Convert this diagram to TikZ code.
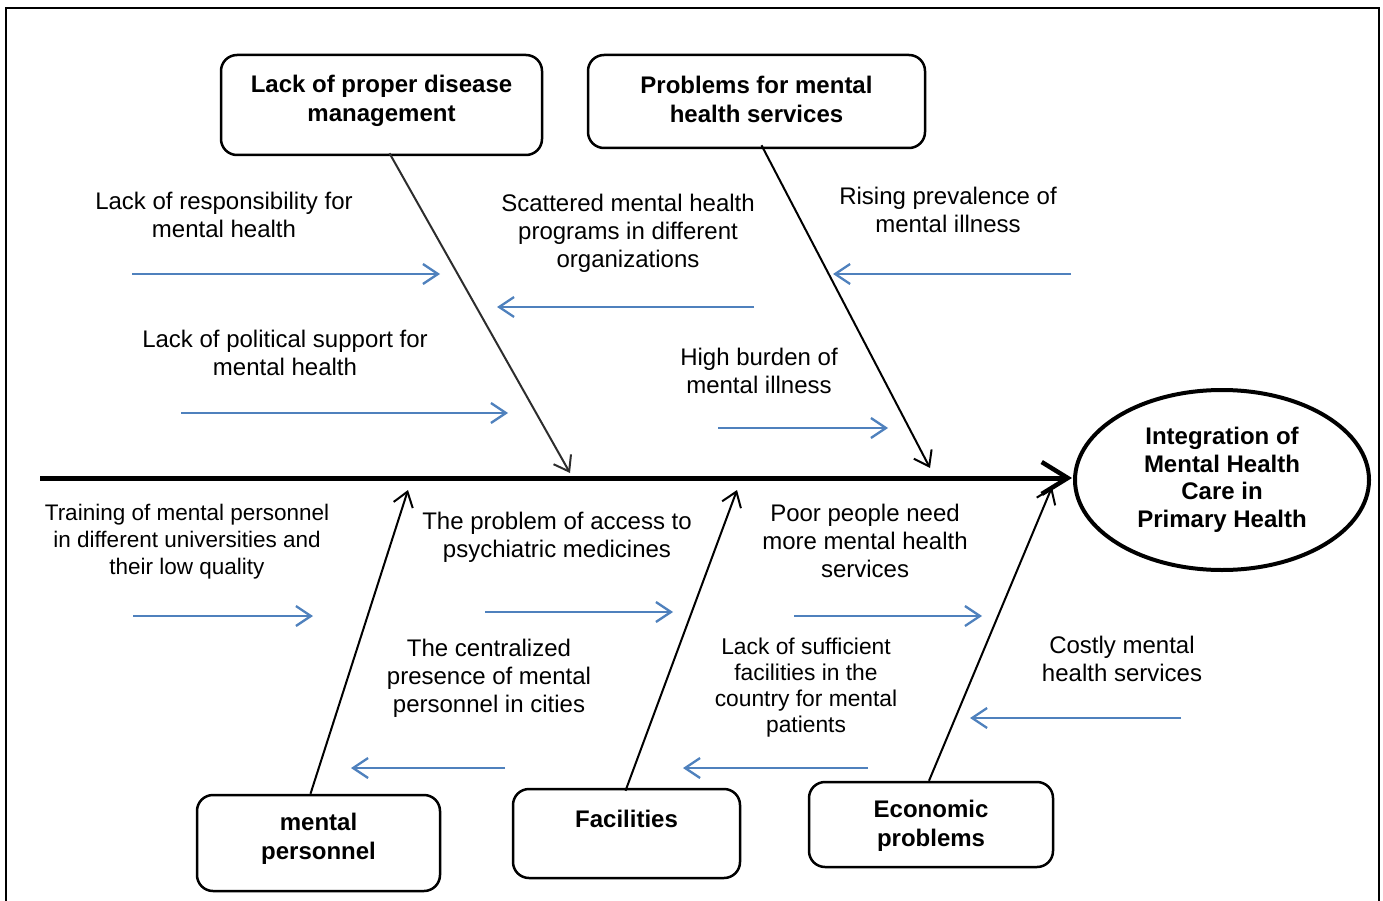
\documentclass[tikz,border=0pt]{standalone}
\usepackage{fontspec}
\setmainfont{Liberation Sans}
\usetikzlibrary{arrows.meta,shapes.geometric}
\definecolor{arrowblue}{RGB}{79,129,189}
\definecolor{bonegray}{RGB}{45,45,45}
\begin{document}
\begin{tikzpicture}[x=1pt,y=-1pt,
  lbl/.style={align=center,inner sep=0pt,font=\fontsize{24}{27.8}\selectfont},
  boxtxt/.style={align=center,inner sep=0pt,font=\fontsize{24}{29}\selectfont\bfseries},
  causebox/.style={draw,line width=2.5pt,rounded corners=16pt,inner sep=0pt},
  bluearrow/.style={draw=arrowblue,line width=2.5pt,-{Straight Barb[length=15pt,width=20pt,line width=2.3pt]}},
  bone/.style={line width=2pt,-{Straight Barb[length=14pt,width=20pt,line width=2pt]}},
]
\useasboundingbox (0,0) rectangle (1383,901);
\draw[line width=2pt] (6,905) -- (6,8) -- (1379,8) -- (1379,905);

% effect
\node[draw,ellipse,line width=4pt,minimum width=294pt,minimum height=180pt,inner sep=0pt,
  align=center,font=\fontsize{24}{27.5}\selectfont\bfseries] (goal) at (1222,480)
  {Integration of\\Mental Health\\Care in\\Primary Health};

% spine
\coordinate (tail) at (40,478);
\draw[line width=5pt,-{Straight Barb[length=26pt,width=32pt,line width=4.5pt]}] (tail) -- (1072,478);

% category boxes
\node[causebox,minimum width=321pt,minimum height=100pt] (b1) at (381.5,105) {};
\node[boxtxt] (b1t) at (381.5,101) {Lack of proper disease\\management};
\node[causebox,minimum width=337pt,minimum height=93pt] (b2) at (756.5,101.5) {};
\node[boxtxt] (b2t) at (756.5,99) {Problems for mental\\health services};
\node[causebox,minimum width=243pt,minimum height=96pt] (b3) at (318.5,843) {};
\node[boxtxt] (b3t) at (318.5,839) {mental\\personnel};
\node[causebox,minimum width=227pt,minimum height=89pt] (b4) at (626.5,833.5) {};
\node[boxtxt] (b4t) at (626.5,819) {Facilities};
\node[causebox,minimum width=244pt,minimum height=85pt] (b5) at (931,824.5) {};
\node[boxtxt] (b5t) at (931,826) {Economic\\problems};

% bones
\coordinate (j1) at (570,473);
\coordinate (j2) at (930,468);
\coordinate (j3) at (408,490);
\coordinate (j4) at (737,490);
\coordinate (j5) at (1052,487);
\draw[bone,bonegray] ([xshift=8pt,yshift=3pt]b1.south) -- (j1);
\draw[bone] ([xshift=5pt,yshift=4pt]b2.south) -- (j2);
\draw[bone] ([xshift=-8pt]b3.north) -- (j3);
\draw[bone] ([xshift=-1pt,yshift=-3pt]b4.north) -- (j4);
\draw[bone] ([xshift=-2pt]b5.north) -- (j5);

% sub-causes
\node[lbl] (l1) at (224,215) {Lack of responsibility for\\mental health};
\node[lbl] (l2) at (285,353) {Lack of political support for\\mental health};
\node[lbl] (l3) at (628,233) {Scattered mental health\\programs in different\\organizations};
\node[lbl] (l4) at (948,210) {Rising prevalence of\\mental illness};
\node[lbl] (l5) at (759,371) {High burden of\\mental illness};
\node[lbl,font=\fontsize{22.5}{27}\selectfont] (l6) at (187,542) {Training of mental personnel\\in different universities and\\their low quality};
\node[lbl] (l7) at (557,537) {The problem of access to\\psychiatric medicines};
\node[lbl] (l8) at (865,541) {Poor people need\\more mental health\\services};
\node[lbl] (l9) at (489,678) {The centralized\\presence of mental\\personnel in cities};
\node[lbl,font=\fontsize{22.8}{26}\selectfont] (l10) at (806,688) {Lack of sufficient\\facilities in the\\country for mental\\patients};
\node[lbl] (l11) at (1122,659) {Costly mental\\health services};

% blue arrows
\coordinate (a1s) at (132,274);  \coordinate (a1e) at (440,274);
\coordinate (a2s) at (181,413);  \coordinate (a2e) at (508,413);
\coordinate (a3s) at (754,307);  \coordinate (a3e) at (497,307);
\coordinate (a4s) at (1071,274); \coordinate (a4e) at (833,274);
\coordinate (a5s) at (718,428);  \coordinate (a5e) at (888,428);
\coordinate (a6s) at (133,616);  \coordinate (a6e) at (313,616);
\coordinate (a7s) at (485,612);  \coordinate (a7e) at (673,612);
\coordinate (a8s) at (794,616);  \coordinate (a8e) at (982,616);
\coordinate (a9s) at (505,768);  \coordinate (a9e) at (351,768);
\coordinate (a10s) at (868,768); \coordinate (a10e) at (683,768);
\coordinate (a11s) at (1181,718); \coordinate (a11e) at (970,718);
\foreach \i in {1,...,11} {\draw[bluearrow] (a\i s) -- (a\i e);}
\end{tikzpicture}
\end{document}
